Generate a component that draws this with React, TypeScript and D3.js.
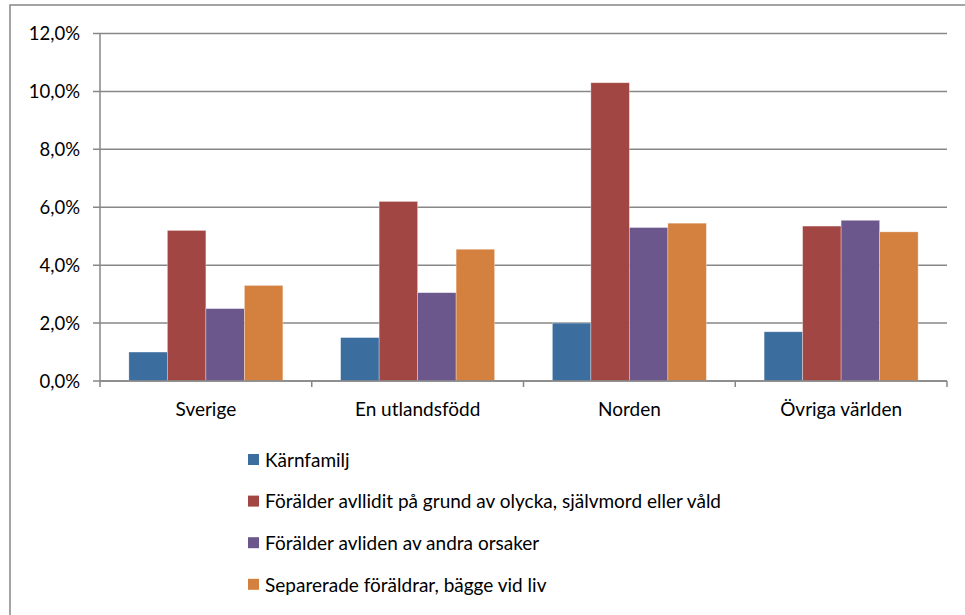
import React from "react";
import * as d3 from "d3";

const categories = ["Sverige", "En utlandsfödd", "Norden", "Övriga världen"];
const seriesNames = [
  "Kärnfamilj",
  "Förälder avllidit på grund av olycka, självmord eller våld",
  "Förälder avliden av andra orsaker",
  "Separerade föräldrar, bägge vid liv",
];
const karnfamilj = [1.0, 1.5, 2.0, 1.7];
const olycka = [5.2, 6.2, 10.3, 5.35];
const andraOrsaker = [2.5, 3.05, 5.3, 5.55];
const separerade = [3.3, 4.55, 5.45, 5.15];
const yTicks = [0, 2, 4, 6, 8, 10, 12];
const colors = ["#3C6D9F", "#A24644", "#6C578C", "#D4803F"];

const width = 965;
const height = 615;
const margin = { top: 33.5, right: 18, bottom: 234, left: 100 };
const font = "Lato, 'Open Sans', sans-serif";
const gridColor = "#878787";

export default function App() {
  const series = [karnfamilj, olycka, andraOrsaker, separerade];

  const x0 = d3
    .scaleBand()
    .domain(categories)
    .range([margin.left, width - margin.right])
    .paddingInner(0)
    .paddingOuter(0);
  const bw = x0.bandwidth() / 5.5;
  const x1 = d3
    .scaleBand()
    .domain(seriesNames)
    .range([0, bw * 4])
    .padding(0);
  const y = d3
    .scaleLinear()
    .domain([0, 12])
    .range([height - margin.bottom, margin.top]);

  const fmt = (d: number) => d.toFixed(1).replace(".", ",") + "%";
  const xTicks = [margin.left, ...categories.map((c) => (x0(c) as number) + x0.bandwidth())];

  return (
    <svg
      width={width}
      height={height}
      style={{ position: "absolute", left: 0, top: 0, background: "#fff" }}
    >
      {/* outer frame */}
      <rect x={10} y={5} width={width + 20} height={height + 20} fill="none" stroke={gridColor} strokeWidth={1.5} />

      {/* gridlines + y ticks */}
      {yTicks.map((t) => (
        <g key={t}>
          <line x1={margin.left - 7} x2={width - margin.right} y1={y(t)} y2={y(t)} stroke={gridColor} strokeWidth={1.5} />
          <text
            x={80}
            y={y(t)}
            dy="0.36em"
            textAnchor="end"
            fontFamily={font}
            fontSize={18.5}
            fill="#000"
          >
            {fmt(t)}
          </text>
        </g>
      ))}

      {/* bars */}
      {categories.map((c, i) => (
        <g key={c} transform={`translate(${(x0(c) as number) + bw * 0.75},0)`}>
          {series.map((s, j) => (
            <rect
              key={j}
              x={x1(seriesNames[j])}
              y={y(s[i])}
              width={x1.bandwidth()}
              height={y(0) - y(s[i])}
              fill={colors[j]}
              stroke="#ffffff"
              strokeOpacity={0.45}
              strokeWidth={0.7}
            />
          ))}
        </g>
      ))}

      {/* axes */}
      <line x1={margin.left} x2={margin.left} y1={margin.top} y2={y(0)} stroke={gridColor} strokeWidth={1.5} />
      <line x1={margin.left} x2={width - margin.right} y1={y(0)} y2={y(0)} stroke={gridColor} strokeWidth={1.5} />
      {xTicks.map((t, i) => (
        <line key={i} x1={t} x2={t} y1={y(0)} y2={y(0) + 6} stroke={gridColor} strokeWidth={1.5} />
      ))}
      {categories.map((c) => (
        <text
          key={c}
          x={(x0(c) as number) + x0.bandwidth() / 2}
          y={416}
          textAnchor="middle"
          fontFamily={font}
          fontSize={19}
          fill="#000"
        >
          {c}
        </text>
      ))}

      {/* legend */}
      {seriesNames.map((n, i) => (
        <g key={n} transform={`translate(248,${460 + i * 41.6})`}>
          <rect x={0} y={-6} width={11} height={11} fill={colors[i]} />
          <text x={17} y={0} dy="0.36em" fontFamily={font} fontSize={19} fill="#000">
            {n}
          </text>
        </g>
      ))}
    </svg>
  );
}
